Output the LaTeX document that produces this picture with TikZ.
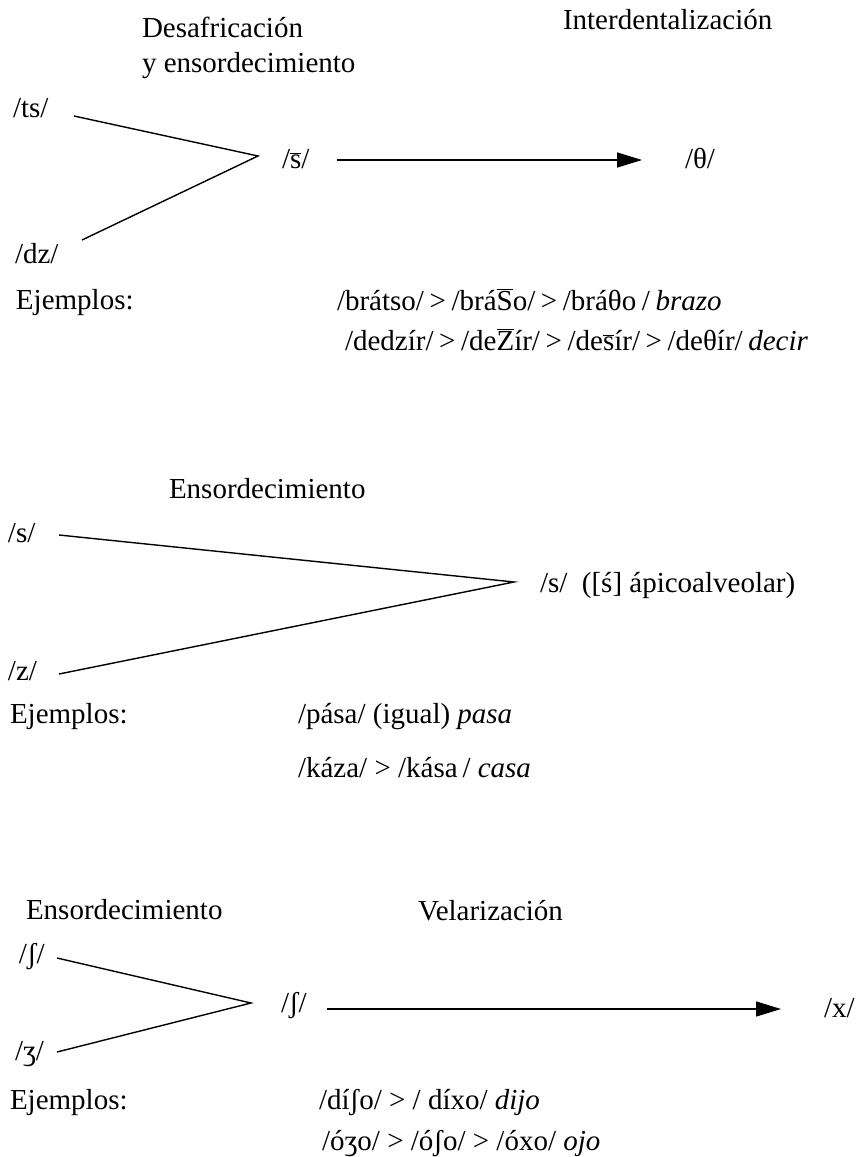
\documentclass[tikz,border=0pt]{standalone}
\usepackage{fontspec}
\setmainfont{Liberation Serif}
\usetikzlibrary{arrows.meta}
\newcommand\ob[1]{$\overline{\hbox{#1}}$}
\newcommand\tsp{\spaceskip=5.6pt plus 1pt minus 1pt\relax}
\begin{document}
\begin{tikzpicture}[x=1pt,y=-1pt,
  lbl/.style={anchor=base west,inner sep=0pt,outer sep=0pt,font=\fontsize{29}{34}\selectfont},
  ln/.style={line width=1.4pt},
  arr/.style={line width=1.4pt,-{Triangle[length=25pt,width=15pt]}}]
\useasboundingbox (0,0) rectangle (856,1157);
% Section 1
\node[lbl] (h1a) at (142,37) {Desafricación};
\node[lbl] (h1b) at (142,72) {y ensordecimiento};
\node[lbl] (h1c) at (563,29) {Interdentalización};
\node[lbl] (ts) at (13,117) {/ts/};
\node[lbl] (dz) at (15,263) {/dz/};
\node[lbl] (sb) at (282,168) {/\ob{s}/};
\node[lbl] (th) at (685,168) {/θ/};
\node[lbl] (ej1) at (16,309) {Ejemplos:};
\node[lbl] (ex1) at (337,310) {\tsp /brátso/ > /brá\ob{S}o/ > /bráθo / \textit{brazo}};
\node[lbl] (ex2) at (345,350) {\tsp /dedzír/ > /de\ob{Z}ír/ > /de\ob{s}ír/ > /deθír/ \textit{decir}};
\coordinate (v1) at (258,156);
\coordinate (ts-e) at (74,116);
\coordinate (dz-e) at (82,240);
\coordinate (a1s) at (337,160);
\coordinate (a1e) at (642,160);
\draw[ln] (ts-e) -- (v1) -- (dz-e);
\draw[arr] (a1s) -- (a1e);
% Section 2
\node[lbl] (h2) at (169,498) {Ensordecimiento};
\node[lbl] (s2) at (8,542) {/s/};
\node[lbl] (z2) at (8,680) {/z/};
\node[lbl] (s2r) at (540,592) {/s/\ \ ([ś] ápicoalveolar)};
\node[lbl] (ej2) at (10,723) {Ejemplos:};
\node[lbl] (ex3) at (298,723) {/pása/ (igual) \textit{pasa}};
\node[lbl] (ex4) at (298,777) {/káza/ > /kása\,/ \textit{casa}};
\coordinate (v2) at (514,582);
\coordinate (s2-e) at (59,535);
\coordinate (z2-e) at (59,674);
\draw[ln] (s2-e) -- (v2) -- (z2-e);
% Section 3
\node[lbl] (h3a) at (26,919) {Ensordecimiento};
\node[lbl] (h3b) at (418,920) {Velarización};
\node[lbl] (sh) at (19,963) {/ʃ/};
\node[lbl] (zh) at (15,1060) {/ʒ/};
\node[lbl] (sh2) at (281,1012) {/ʃ/};
\node[lbl] (xx) at (824,1017) {/x/};
\node[lbl] (ej3) at (10,1109) {Ejemplos:};
\node[lbl] (ex5) at (319,1109) {/díʃo/ > / díxo/ \textit{dijo}};
\node[lbl] (ex6) at (322,1150) {/óʒo/ > /óʃo/ > /óxo/ \textit{ojo}};
\coordinate (v3) at (251,1003);
\coordinate (sh-e) at (57,958);
\coordinate (zh-e) at (57,1052);
\coordinate (a3s) at (327,1009);
\coordinate (a3e) at (781,1009);
\draw[ln] (sh-e) -- (v3) -- (zh-e);
\draw[arr] (a3s) -- (a3e);
\end{tikzpicture}
\end{document}
